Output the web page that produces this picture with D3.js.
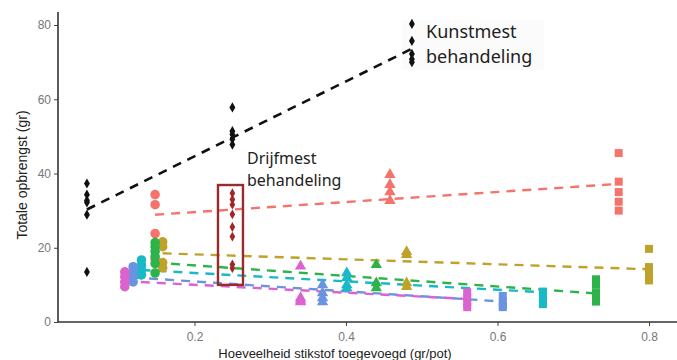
<!DOCTYPE html>
<html lang="nl">
<head>
<meta charset="UTF-8">
<title>Totale opbrengst vs stikstof</title>
<script src="https://d3js.org/d3.v7.min.js"></script>
<style>
  body { margin: 0; background: #fff; }
  svg { display: block; }
  .tick text { fill: #777; font-family: "Liberation Sans", Arial, sans-serif; font-size: 12px; }
  .tick line { stroke: #444; }
  .note { font-family: "Noto Sans", "Open Sans", sans-serif; fill: #222; }
  .axis-title { font-family: "Liberation Sans", Arial, sans-serif; fill: #222; }
</style>
</head>
<body>
<div id="chart"></div>
<script>
const width = 677;
const height = 360;

// x ticks / y ticks
const xTicks = [0.2, 0.4, 0.6, 0.8];
const yTicks = [0, 20, 40, 60, 80];

// Kunstmest (black)
const kunstX = [0.058, 0.25, 0.487];
const kunstY = [
  [37.3, 34.3, 32.7, 32.2, 28.9, 13.5],
  [57.8, 51.4, 50.5, 49.2, 47.8],
  [80.3, 75.7, 72.2, 70.8, 70]
];
const kunstLine = [[0.058, 30.3], [0.487, 73.6]];

// Drijfmest (boxed, dark red)
const drijfX = 0.25;
const drijfY = [34.7, 33, 31.6, 29, 25.6, 23, 15.5, 14.5];
const drijfBox = [[0.231, 36.9], [0.264, 10]];

// six coloured series: circles, triangles, squares
const groups = ["a", "b", "c", "d", "e", "f"];
const circleX = [0.148, 0.158, 0.148, 0.13, 0.119, 0.108];
const triangleX = [0.458, 0.48, 0.44, 0.401, 0.369, 0.34];
const squareX = [0.76, 0.8, 0.73, 0.66, 0.607, 0.56];
const circleY = [
  [34.3, 31.6, 23.8, 16.8],
  [21.6, 20.3, 16, 14.6],
  [21.4, 20.3, 19, 17.6, 15.7, 13.2],
  [16.7, 15.3, 14, 12.7],
  [14.9, 13.5, 12.2, 10.8],
  [13.5, 12.2, 10.8, 9.5]
];
const triangleY = [
  [39.7, 37, 35, 32.7],
  [18.9, 18.1, 10.5, 9.5],
  [15.4, 10.5, 9.2],
  [13.2, 11.9, 10, 9.2],
  [10, 7.8, 6.5, 5.4],
  [15, 6.5, 5.9, 5.4]
];
const squareY = [
  [45.5, 37.8, 35, 32.4, 30],
  [19.7, 14.8, 13.5, 12.2, 11.2],
  [11.5, 10, 7.8, 6.5, 5.5],
  [8.2, 7, 5.8, 4.8],
  [7, 5.5, 4.5, 4],
  [8, 6.5, 5, 4]
];
const lineStart = [[0.148, 28.9], [0.158, 18.5], [0.148, 16], [0.13, 14], [0.119, 12], [0.108, 11]];
const lineEnd = [[0.76, 37.2], [0.8, 14.2], [0.73, 7.7], [0.66, 8], [0.607, 5.5], [0.56, 6.2]];

const colors = ["#f4736b", "#bfa22a", "#2eb34a", "#19b9c8", "#6a93e0", "#dc62cf"];

const svg = d3.select("#chart").append("svg")
  .attr("width", width)
  .attr("height", height);

const x = d3.scaleLinear().domain([0.2, 0.8]).range([194.5, 649]);
const y = d3.scaleLinear().domain([0, 80]).range([322, 25]);

const axisLeftX = 58;

// very faint panel behind the Kunstmest note
svg.append("rect")
  .attr("x", 402).attr("y", 20)
  .attr("width", 142).attr("height", 50)
  .attr("fill", "#fbfbfb");

// axes
svg.append("g")
  .attr("transform", `translate(${axisLeftX},0)`)
  .call(d3.axisLeft(y).tickValues(yTicks).tickSize(4).tickPadding(3))
  .call(g => g.select(".domain").remove());

svg.append("g")
  .attr("transform", `translate(0,${y(0)})`)
  .call(d3.axisBottom(x).tickValues(xTicks).tickFormat(d3.format(".1f")).tickSize(4).tickPadding(6))
  .call(g => g.select(".domain").remove());

svg.append("line")
  .attr("x1", axisLeftX).attr("x2", axisLeftX)
  .attr("y1", 12).attr("y2", y(0))
  .attr("stroke", "#333").attr("stroke-width", 1.6);
svg.append("line")
  .attr("x1", axisLeftX).attr("x2", width)
  .attr("y1", y(0)).attr("y2", y(0))
  .attr("stroke", "#333").attr("stroke-width", 1.6);

// axis titles
svg.append("text")
  .attr("class", "axis-title")
  .attr("font-size", 13)
  .attr("x", 335).attr("y", 358)
  .attr("text-anchor", "middle")
  .text("Hoeveelheid stikstof toegevoegd (gr/pot)");

svg.append("text")
  .attr("class", "axis-title")
  .attr("font-size", 14)
  .attr("transform", "translate(27,175) rotate(-90)")
  .attr("text-anchor", "middle")
  .text("Totale opbrengst (gr)");

const plot = svg.append("g");

// dashed regression lines for the coloured series
plot.selectAll("line.fit")
  .data(groups)
  .enter()
  .append("line")
  .attr("class", "fit")
  .attr("x1", (d, i) => x(lineStart[i][0]))
  .attr("y1", (d, i) => y(lineStart[i][1]))
  .attr("x2", (d, i) => x(lineEnd[i][0]))
  .attr("y2", (d, i) => y(lineEnd[i][1]))
  .attr("stroke", (d, i) => colors[i])
  .attr("stroke-width", 2.4)
  .attr("stroke-dasharray", "9,7");

// points
const shapes = [
  { xs: circleX, ys: circleY, type: d3.symbolCircle, size: 72 },
  { xs: triangleX, ys: triangleY, type: d3.symbolTriangle, size: 56 },
  { xs: squareX, ys: squareY, type: d3.symbolSquare, size: 64 }
];

shapes.forEach(s => {
  const pts = [];
  groups.forEach((g, i) => {
    s.ys[i].forEach(v => pts.push({ x: s.xs[i], y: v, c: colors[i] }));
  });
  plot.append("g")
    .selectAll("path")
    .data(pts)
    .enter()
    .append("path")
    .attr("d", d3.symbol().type(s.type).size(s.size))
    .attr("transform", d => `translate(${x(d.x)},${y(d.y)})`)
    .attr("fill", d => d.c);
});

// Kunstmest
plot.append("line")
  .attr("x1", x(kunstLine[0][0])).attr("y1", y(kunstLine[0][1]))
  .attr("x2", x(kunstLine[1][0])).attr("y2", y(kunstLine[1][1]))
  .attr("stroke", "#111")
  .attr("stroke-width", 2.6)
  .attr("stroke-dasharray", "9,7");

const kunstPts = [];
kunstX.forEach((kx, i) => kunstY[i].forEach(v => kunstPts.push({ x: kx, y: v })));
plot.append("g")
  .selectAll("path")
  .data(kunstPts)
  .enter()
  .append("path")
  .attr("d", d3.symbol().type(d3.symbolDiamond).size(30))
  .attr("transform", d => `translate(${x(d.x)},${y(d.y)})`)
  .attr("fill", "#111");

// Drijfmest
plot.append("rect")
  .attr("x", x(drijfBox[0][0]))
  .attr("y", y(drijfBox[0][1]))
  .attr("width", x(drijfBox[1][0]) - x(drijfBox[0][0]))
  .attr("height", y(drijfBox[1][1]) - y(drijfBox[0][1]))
  .attr("fill", "none")
  .attr("stroke", "#9b2a2a")
  .attr("stroke-width", 2.4);

plot.append("g")
  .selectAll("path")
  .data(drijfY)
  .enter()
  .append("path")
  .attr("d", d3.symbol().type(d3.symbolDiamond).size(28))
  .attr("transform", d => `translate(${x(drijfX)},${y(d)})`)
  .attr("fill", "#a3262a");

// annotations
const kunstNote = svg.append("text").attr("class", "note").attr("font-size", 18);
kunstNote.append("tspan").attr("x", 426).attr("y", 38).text("Kunstmest");
kunstNote.append("tspan").attr("x", 426).attr("y", 63).text("behandeling");

const drijfNote = svg.append("text").attr("class", "note").attr("font-size", 16);
drijfNote.append("tspan").attr("x", 247).attr("y", 164).text("Drijfmest");
drijfNote.append("tspan").attr("x", 247).attr("y", 186).text("behandeling");
</script>
</body>
</html>
